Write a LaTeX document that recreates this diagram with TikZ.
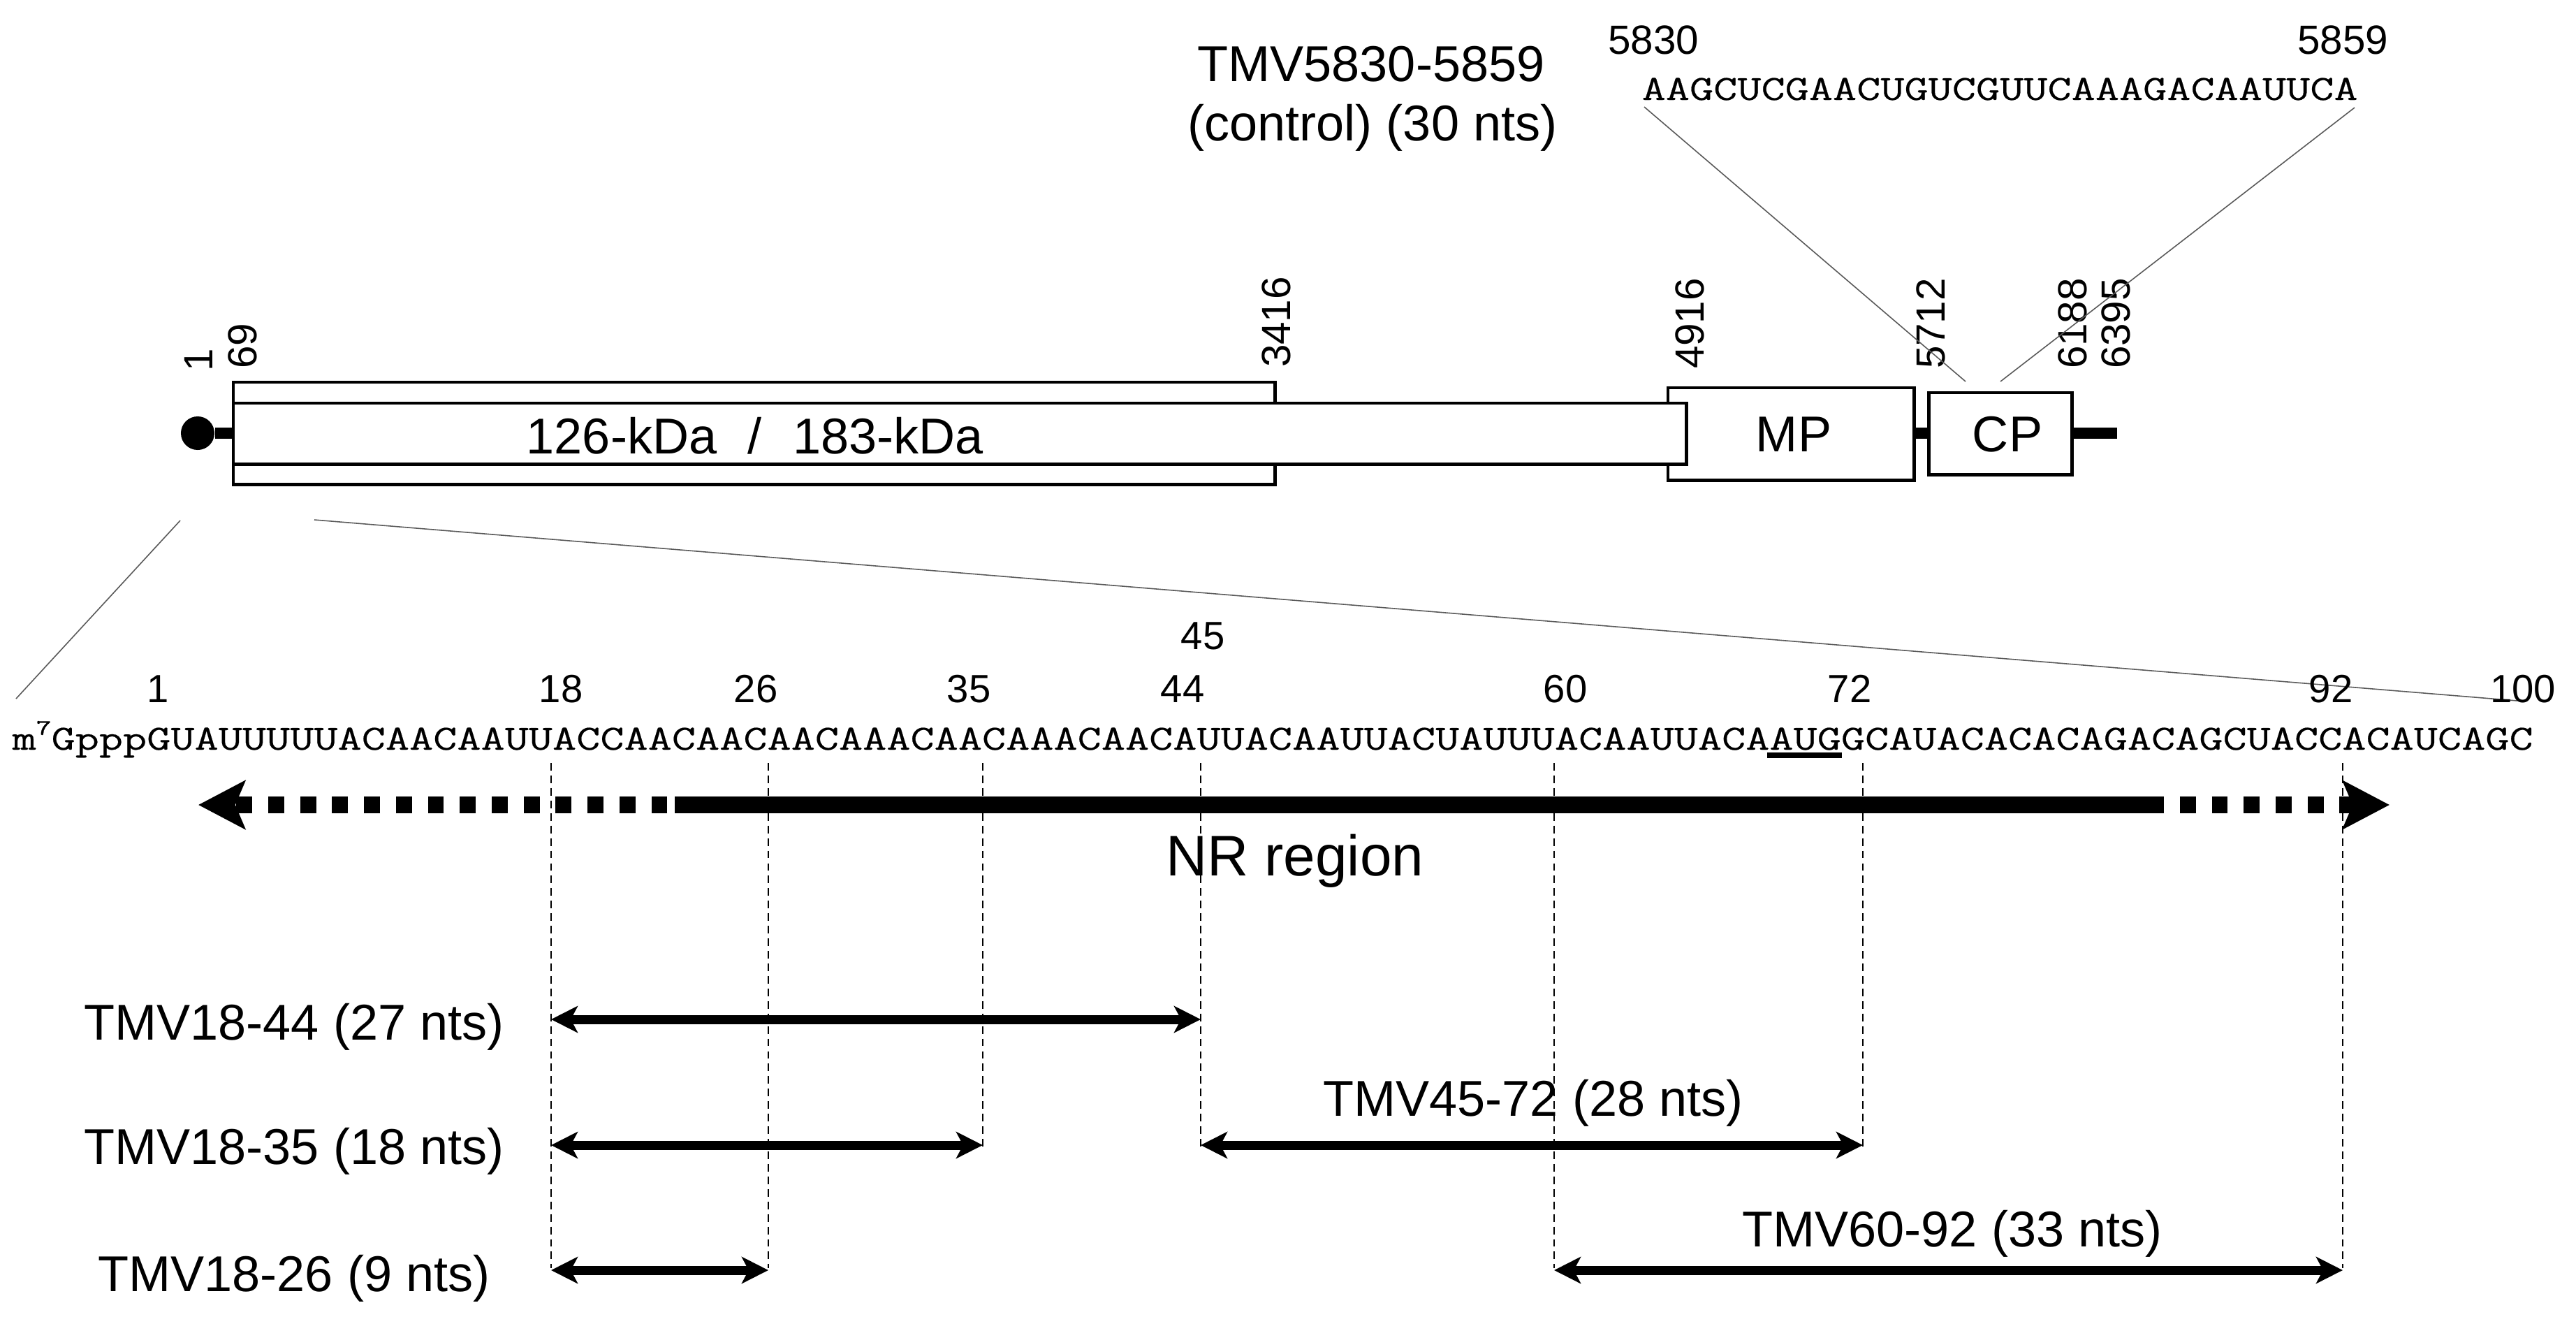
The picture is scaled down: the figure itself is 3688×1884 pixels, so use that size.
\documentclass[tikz,border=0pt]{standalone}
\usepackage{fontspec}
\setmainfont{Liberation Sans}
\newfontfamily\seqfam[FakeStretch=1.31,FakeBold=0.4]{Latin Modern Mono}
\usepackage{tikz}
\usetikzlibrary{arrows.meta}
\newcommand{\seqfont}{\seqfam\fontsize{14.4pt}{14.4pt}\selectfont}

\tikzset{
	lbl/.style={inner sep=0pt,font=\fontsize{20.5pt}{20.5pt}\selectfont},
	num/.style={inner sep=0pt,font=\fontsize{16pt}{16pt}\selectfont},
	numup/.style={num,rotate=90,anchor=south,font=\fontsize{16.6pt}{16.6pt}\selectfont},
	seqtxt/.style={inner sep=0pt,anchor=base west},
	orf/.style={draw,fill=white,line width=1.4pt,outer sep=0pt,anchor=north west},
	stub/.style={line width=4.6pt},
	zoomline/.style={line width=0.45pt,black!65},
	guide/.style={line width=0.8pt,dash pattern=on 3.1pt off 2pt},
	span/.style={line width=3.7pt,{Stealth[length=10.8pt,width=10.8pt,inset=2.8pt]}-{Stealth[length=10.8pt,width=10.8pt,inset=2.8pt]}},
	nrbar/.style={line width=6.6pt},
	nrdash/.style={line width=6.6pt,dash pattern=on 6.5pt off 6.5pt},
	nrtip/.style={-{Stealth[length=19pt,width=19.6pt,inset=4pt]}},
}

\begin{document}
\begin{tikzpicture}[x=0.01cm,y=-0.01cm]
\useasboundingbox (0,0) rectangle (3688,1884);
	% genome map
	\node[circle,fill=black,inner sep=0pt,minimum size=48*0.2845pt] (cap) at (283,620) {};
	\coordinate (tail) at (3031,620);
	\draw[stub] (cap) -- (tail);
	\node[orf,minimum width=1491*0.2845pt,minimum height=146*0.2845pt] (orfa) at (334,547) {};
	\node[orf,minimum width=352*0.2845pt,minimum height=132*0.2845pt] (mp) at (2388,555) {};
	\node[orf,minimum width=2079*0.2845pt,minimum height=87*0.2845pt] (orfb) at (334,577) {};
	\node[orf,minimum width=205*0.2845pt,minimum height=117*0.2845pt] (cp) at (2761,562) {};
	\node[lbl] (orfname) at (1081,624) {126-kDa\hspace{0.62em}/\hspace{0.62em}183-kDa};
	\node[lbl] (mpname) at (2568,622) {MP};
	\node[lbl] (cpname) at (2874,622) {CP};
	%
	\node[numup] (ga) at (305,515) {1};
	\node[numup] (gb) at (369,495) {69};
	\node[numup] (gc) at (1849,461) {3416};
	\node[numup] (gd) at (2441,463) {4916};
	\node[numup] (ge) at (2786,463) {5712};
	\node[numup] (gf) at (2989,463) {6188};
	\node[numup] (gg) at (3051,463) {6395};
	% control fragment
	\node[lbl,anchor=base] (ctla) at (1963,116) {TMV5830-5859};
	\node[lbl,anchor=base] (ctlb) at (1965,201) {(control) (30 nts)};
	\node[num,font=\fontsize{16.6pt}{16.6pt}\selectfont] (ctlc) at (2367,57) {5830};
	\node[num,font=\fontsize{16.6pt}{16.6pt}\selectfont] (ctld) at (3354,57) {5859};
	\node[seqtxt] (ctlseq) at (2350,143) {\seqfont AAGCUCGAACUGUCGUUCAAAGACAAUUCA};
	\coordinate (za) at (2354,153);
	\coordinate (zb) at (3371,154);
	\coordinate (zc) at (2814,546);
	\coordinate (zd) at (2864,546);
	\draw[zoomline] (za) -- (zc);
	\draw[zoomline] (zb) -- (zd);
	% zoom to the leader
	\coordinate (ze) at (258,745);
	\coordinate (zf) at (23,1000);
	\coordinate (zg) at (450,744);
	\coordinate (zh) at (3604,1003);
	\draw[zoomline] (ze) -- (zf);
	\draw[zoomline] (zg) -- (zh);
	% leader sequence
	\node[num,anchor=base] (na) at (226,1005) {1};
	\node[num,anchor=base] (nb) at (803,1005) {18};
	\node[num,anchor=base] (nc) at (1082,1005) {26};
	\node[num,anchor=base] (nd) at (1387,1005) {35};
	\node[num,anchor=base] (ne) at (1693,1005) {44};
	\node[num,anchor=base] (nf) at (1722,929) {45};
	\node[num,anchor=base] (ng) at (2241,1005) {60};
	\node[num,anchor=base] (nh) at (2648,1005) {72};
	\node[num,anchor=base] (ni) at (3337,1005) {92};
	\node[num,anchor=base] (nj) at (3612,1005) {100};
	\node[seqtxt] (seq) at (17,1073) {\seqfont m\raisebox{0.42em}{\fontsize{9pt}{9pt}\selectfont 7}GpppGUAUUUUUACAACAAUUACCAACAACAACAAACAACAAACAACAUUACAAUUACUAUUUACAAUUACAAUGGCAUACACACAGACAGCUACCACAUCAGC};
	\coordinate (auga) at (2530,1081);
	\coordinate (augb) at (2637,1081);
	\draw[line width=2.3pt] (auga) -- (augb);
	% NR region
	\coordinate (ba) at (966,1152);
	\coordinate (bb) at (3098,1152);
	\coordinate (bc) at (284,1152);
	\coordinate (bd) at (3421,1152);
	\draw[nrbar] (ba) -- (bb);
	\draw[nrdash,dash phase=10pt,nrtip] (ba) -- (bc);
	\draw[nrdash,dash phase=6.5pt,nrtip] (bb) -- (bd);
	\node[lbl,font=\fontsize{23.3pt}{23.3pt}\selectfont] (nr) at (1854,1232) {NR region};
	% guide lines
	\coordinate (da) at (789,1092); \coordinate (db) at (789,1815);
	\coordinate (dc) at (1100,1092); \coordinate (dd) at (1100,1815);
	\coordinate (de) at (1407,1092); \coordinate (df) at (1407,1645);
	\coordinate (dg) at (1719,1092); \coordinate (dh) at (1719,1645);
	\coordinate (di) at (2225,1092); \coordinate (dj) at (2225,1815);
	\coordinate (dk) at (2667,1092); \coordinate (dl) at (2667,1645);
	\coordinate (dm) at (3354,1092); \coordinate (dn) at (3354,1815);
	\draw[guide] (da) -- (db);
	\draw[guide] (dc) -- (dd);
	\draw[guide] (de) -- (df);
	\draw[guide] (dg) -- (dh);
	\draw[guide] (di) -- (dj);
	\draw[guide] (dk) -- (dl);
	\draw[guide] (dm) -- (dn);
	% fragments
	\coordinate (sa) at (789,1459); \coordinate (sb) at (1719,1459);
	\coordinate (sc) at (789,1639); \coordinate (sd) at (1407,1639);
	\coordinate (se) at (789,1818); \coordinate (sf) at (1100,1818);
	\coordinate (sg) at (1719,1639); \coordinate (sh) at (2667,1639);
	\coordinate (si) at (2225,1818); \coordinate (sj) at (3354,1818);
	\draw[span] (sa) -- (sb);
	\draw[span] (sc) -- (sd);
	\draw[span] (se) -- (sf);
	\draw[span] (sg) -- (sh);
	\draw[span] (si) -- (sj);
	\node[lbl] (ta) at (421,1470) {TMV18-44 (27 nts)};
	\node[lbl] (tb) at (421,1648) {TMV18-35 (18 nts)};
	\node[lbl] (tc) at (421,1830) {TMV18-26 (9 nts)};
	\node[lbl] (td) at (2195,1579) {TMV45-72 (28 nts)};
	\node[lbl] (te) at (2795,1766) {TMV60-92 (33 nts)};
\end{tikzpicture}
\end{document}
